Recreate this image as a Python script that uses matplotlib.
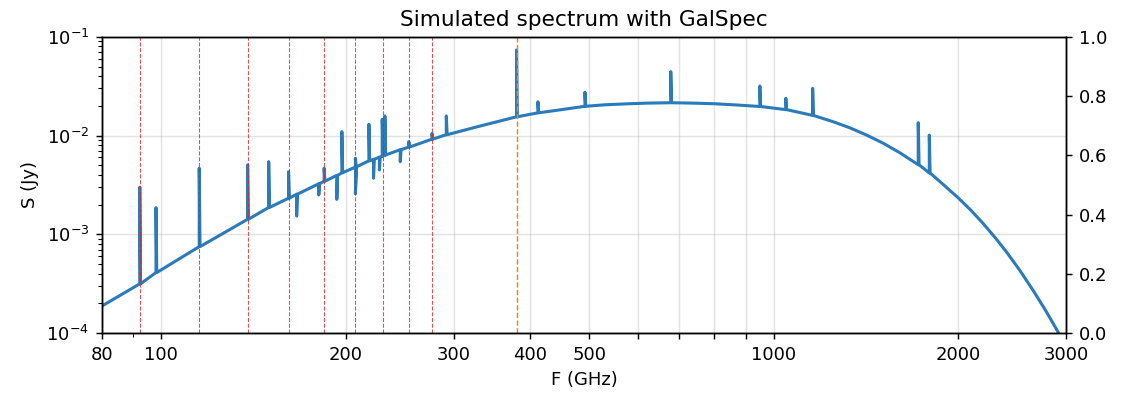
import numpy as np
import matplotlib.pyplot as plt

# continuum of the simulated galaxy (GHz, Jy); spike frequencies are included
freq = [80, 92.2, 98, 115.3, 138.3, 149.7, 161.3, 166.3, 180.7, 184.4, 193.4,
        197.1, 207.4, 218.2, 222, 227, 229.4, 231.7, 245.5, 253.5, 276.6,
        291.9, 330, 380.1, 411.9, 450, 491.6, 530, 580, 620, 678.7, 740, 800,
        870, 948.7, 1046, 1103, 1157, 1250, 1330, 1418, 1510, 1607, 1721,
        1794, 1867, 2000, 2100, 2198, 2300, 2400, 2520, 2652, 2780, 2915, 3000]
flux = [1.88e-4, 3.15e-4, 4.1e-4, 7.5e-4, 1.42e-3, 1.87e-3, 2.32e-3, 2.55e-3,
        3.25e-3, 3.45e-3, 3.95e-3, 4.2e-3, 4.8e-3, 5.55e-3, 5.75e-3, 6.05e-3,
        6.2e-3, 6.35e-3, 7.2e-3, 7.65e-3, 9.2e-3, 1.02e-2, 1.24e-2, 1.55e-2,
        1.70e-2, 1.83e-2, 1.98e-2, 2.05e-2, 2.10e-2, 2.13e-2, 2.15e-2, 2.13e-2,
        2.10e-2, 2.04e-2, 1.97e-2, 1.83e-2, 1.71e-2, 1.60e-2, 1.38e-2, 1.20e-2,
        1.01e-2, 8.34e-3, 6.68e-3, 5.06e-3, 4.18e-3, 3.42e-3, 2.34e-3, 1.74e-3,
        1.28e-3, 9.2e-4, 6.58e-4, 4.33e-4, 2.69e-4, 1.68e-4, 1.01e-4, 7.3e-5]

# line features: frequency -> extreme values reached (above or below continuum)
lines = {
    92.2: [3.0e-3], 98: [1.86e-3], 115.3: [4.67e-3], 138.3: [5.04e-3],
    149.7: [5.44e-3], 161.3: [4.3e-3], 166.3: [1.53e-3], 180.7: [2.5e-3],
    184.4: [4.67e-3], 193.4: [2.26e-3], 197.1: [1.096e-2],
    207.4: [5.89e-3, 2.6e-3], 218.2: [1.30e-2], 222: [3.7e-3],
    227: [4.48e-3], 229.4: [1.46e-2], 231.7: [1.58e-2], 245.5: [5.44e-3],
    253.5: [8.68e-3], 276.6: [1.05e-2], 291.9: [1.58e-2], 380.1: [7.36e-2],
    411.9: [2.2e-2], 491.6: [2.75e-2], 678.7: [4.44e-2], 948.7: [3.18e-2],
    1046: [2.39e-2], 1157: [3.01e-2], 1721: [1.35e-2], 1794: [1.01e-2],
}

co_lines = [92.2, 115.3, 138.3, 161.3, 184.4, 207.4, 230.5, 253.5, 276.6]
cii_line = 380.1

xticks = [80, 100, 200, 300, 400, 500, 600, 700, 800, 900, 1000, 2000, 3000]
xticklabels = ['80', '100', '200', '300', '400', '500', '', '', '', '',
               '1000', '2000', '3000']

# build the spectrum: continuum with each line drawn as a narrow spike
spec_f, spec_s = [], []
for f, s in zip(freq, flux):
    spec_f.append(f)
    spec_s.append(s)
    for peak in lines.get(f, []):
        spec_f += [f, f * 1.003]
        spec_s += [peak, s]

fig = plt.figure(figsize=(1121 / 130, 396 / 130), dpi=130)
ax = fig.add_axes([0.091, 0.159, 0.860, 0.748])
ax.plot(spec_f, spec_s, color='#2b7bba', lw=1.7)
for f in co_lines:
    ax.axvline(f, color='tab:red', ls='--', lw=0.6, alpha=0.8)
ax.axvline(cii_line, color='tab:orange', ls='--', lw=0.8)

ax.set_xscale('log')
ax.set_yscale('log')
ax.set_xlim(80, 3000)
ax.set_ylim(1e-4, 1e-1)
ax.set_xticks(xticks)
ax.set_xticklabels(xticklabels)
ax.grid(True, color='#b0b0b0', alpha=0.35)
ax.set_xlabel('F (GHz)')
ax.set_ylabel('S (Jy)')
ax.set_title('Simulated spectrum with GalSpec')

ax2 = ax.twinx()

fig.savefig('out.png')
